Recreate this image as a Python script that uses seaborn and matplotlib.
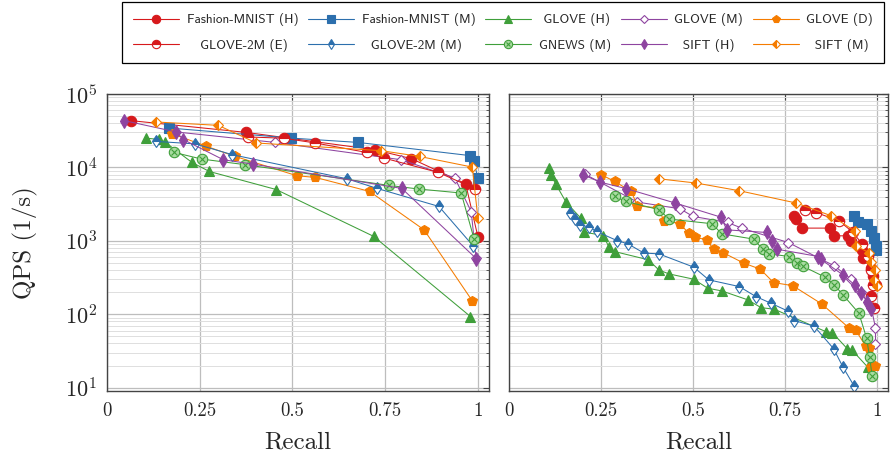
import numpy as np
import pandas as pd
import matplotlib
matplotlib.use("Agg")
import matplotlib.pyplot as plt
import seaborn as sns
from matplotlib.lines import Line2D
from matplotlib.legend_handler import HandlerTuple
from matplotlib.ticker import LogLocator, FixedLocator, NullFormatter

# --- data: left panel ---
fm_h_left_x = [0.064, 0.375, 0.722, 0.821, 0.967, 1.0]
fm_h_left_y = [43400, 30000, 17400, 13150, 6000, 1140]
fm_m_left_x = [0.168, 0.496, 0.677, 0.978, 0.989, 1.0]
fm_m_left_y = [34400, 25100, 21900, 14500, 12100, 7200]
glove_h_left_x = [0.104, 0.14, 0.157, 0.229, 0.276, 0.456, 0.719, 0.98]
glove_h_left_y = [25100, 24000, 22000, 11700, 8800, 5000, 1150, 93]
glove_m_left_x = [0.187, 0.453, 0.794, 0.938, 0.982, 0.995]
glove_m_left_y = [30400, 21900, 12700, 7160, 2500, 590]
glove_d_left_x = [0.175, 0.268, 0.346, 0.512, 0.562, 0.708, 0.855, 0.985]
glove_d_left_y = [28800, 19400, 14100, 7700, 7300, 4710, 1410, 152]
glove2m_e_left_x = [0.379, 0.476, 0.562, 0.70, 0.747, 0.893, 0.992]
glove2m_e_left_y = [26000, 25000, 21500, 16000, 13400, 8550, 5130]
glove2m_m_left_x = [0.133, 0.238, 0.338, 0.647, 0.728, 0.895, 0.987]
glove2m_m_left_y = [22600, 20900, 14900, 7000, 5180, 2940, 855]
gnews_left_x = [0.181, 0.255, 0.372, 0.76, 0.841, 0.955, 0.99]
gnews_left_y = [16000, 13000, 10900, 5690, 5070, 4480, 1050]
sift_h_left_x = [0.046, 0.187, 0.206, 0.314, 0.393, 0.795, 0.996]
sift_h_left_y = [43400, 30400, 23900, 12700, 11100, 5170, 570]
sift_m_left_x = [0.131, 0.30, 0.403, 0.74, 0.843, 0.985, 1.0]
sift_m_left_y = [41600, 37400, 21500, 16900, 14100, 10100, 2040]

# --- data: right panel ---
fm_h_right_x = [0.775, 0.781, 0.795, 0.872, 0.882, 0.922, 0.929, 0.96, 0.962, 0.983, 0.99, 0.998]
fm_h_right_y = [2150, 2000, 1490, 1490, 1170, 1170, 1000, 753, 581, 424, 330, 250]
fm_m_right_x = [0.938, 0.949, 0.974, 0.983, 0.992, 0.998, 0.998]
fm_m_right_y = [2190, 1780, 1690, 1380, 1090, 855, 754]
glove_h_right_x = [0.108, 0.114, 0.127, 0.155, 0.195, 0.204, 0.256, 0.271, 0.287, 0.379,
                   0.407, 0.434, 0.502, 0.54, 0.578, 0.649, 0.685, 0.721, 0.861, 0.879,
                   0.919, 0.931, 0.975]
glove_h_right_y = [9820, 7950, 5930, 3370, 2040, 1316, 1180, 836, 714, 551,
                   402, 355, 300, 226, 208, 157, 123, 117, 58, 56,
                   34, 33, 19]
glove_m_right_x = [0.206, 0.349, 0.465, 0.50, 0.594, 0.632, 0.759, 0.884, 0.93, 0.957, 0.985, 0.996, 0.996]
glove_m_right_y = [8100, 3370, 2730, 2150, 1780, 1490, 948, 456, 300, 200, 120, 65, 39]
glove_d_right_x = [0.251, 0.287, 0.332, 0.349, 0.405, 0.421, 0.465, 0.488, 0.506, 0.537,
                   0.556, 0.581, 0.638, 0.683, 0.719, 0.771, 0.85, 0.924, 0.942, 0.969,
                   0.978, 0.985, 0.995]
glove_d_right_y = [7950, 6440, 4710, 3000, 2790, 1890, 1710, 1270, 1120, 1030,
                   771, 693, 497, 411, 270, 245, 138, 65, 61, 37,
                   35, 19.3, 19.5]
glove2m_e_right_x = [0.805, 0.834, 0.897, 0.935, 0.96, 0.975, 0.985, 0.99, 0.985, 0.992]
glove2m_e_right_y = [2650, 2430, 1875, 1300, 900, 620, 400, 250, 178, 123]
glove2m_m_right_x = [0.167, 0.179, 0.192, 0.218, 0.238, 0.293, 0.323, 0.367, 0.407, 0.502,
                     0.543, 0.626, 0.671, 0.712, 0.757, 0.775, 0.829, 0.882, 0.908, 0.938]
glove2m_m_right_y = [2390, 1980, 1650, 1540, 1340, 1010, 910, 680, 665, 438,
                     294, 238, 174, 141, 111, 82, 69, 34, 18.9, 10.5]
gnews_right_x = [0.287, 0.317, 0.409, 0.434, 0.552, 0.578, 0.665, 0.689, 0.707, 0.762,
                 0.784, 0.80, 0.859, 0.884, 0.908, 0.951, 0.972, 0.98, 0.987]
gnews_right_y = [4030, 3440, 2650, 1980, 1710, 1245, 1055, 771, 665, 611,
                 497, 447, 320, 251, 183, 103, 47, 26, 14.4]
sift_h_right_x = [0.201, 0.248, 0.319, 0.452, 0.576, 0.592, 0.70, 0.715, 0.727, 0.841,
                  0.847, 0.908, 0.94, 0.957, 0.974, 0.985]
sift_h_right_y = [7950, 6300, 5130, 3270, 2100, 1410, 1300, 980, 771, 611,
                  560, 343, 250, 193, 149, 117]
sift_m_right_x = [0.407, 0.509, 0.626, 0.781, 0.876, 0.939, 0.942, 0.978, 0.983, 0.996, 0.992, 1.0]
sift_m_right_y = [7000, 6120, 4810, 3270, 2190, 1370, 855, 693, 522, 402, 294, 243]

x_ticks = [0, 0.25, 0.5, 0.75, 1]
x_tick_labels = ["0", "0.25", "0.5", "0.75", "1"]

RED = "#d7191c"
BLUE = "#2c6fad"
GREEN = "#3f9f3a"
PURPLE = "#8e44a0"
ORANGE = "#f57c00"

# name -> style
styles = {
    "Fashion-MNIST (H)": dict(color=RED, marker="o", ms=7.5, mfc=RED, fs="full"),
    "Fashion-MNIST (M)": dict(color=BLUE, marker="s", ms=6.8, mfc=BLUE, fs="full"),
    "GLOVE (H)": dict(color=GREEN, marker="^", ms=6.5, mfc=GREEN, fs="full"),
    "GLOVE (M)": dict(color=PURPLE, marker="D", ms=5.0, mfc="white", fs="full"),
    "GLOVE (D)": dict(color=ORANGE, marker="p", ms=7.5, mfc=ORANGE, fs="full"),
    "GLOVE-2M (E)": dict(color=RED, marker="o", ms=7.5, mfc=RED, fs="top"),
    "GLOVE-2M (M)": dict(color=BLUE, marker="d", ms=6.5, mfc=BLUE, fs="top"),
    "GNEWS (M)": dict(color=GREEN, marker="o", ms=7.5, mfc="#a8dba0", fs="full"),
    "SIFT (H)": dict(color=PURPLE, marker="d", ms=7.0, mfc=PURPLE, fs="full"),
    "SIFT (M)": dict(color=ORANGE, marker="D", ms=5.2, mfc=ORANGE, fs="left"),
}

left_series = {
    "Fashion-MNIST (H)": (fm_h_left_x, fm_h_left_y),
    "Fashion-MNIST (M)": (fm_m_left_x, fm_m_left_y),
    "GLOVE (H)": (glove_h_left_x, glove_h_left_y),
    "GLOVE (M)": (glove_m_left_x, glove_m_left_y),
    "GLOVE (D)": (glove_d_left_x, glove_d_left_y),
    "GLOVE-2M (E)": (glove2m_e_left_x, glove2m_e_left_y),
    "GLOVE-2M (M)": (glove2m_m_left_x, glove2m_m_left_y),
    "GNEWS (M)": (gnews_left_x, gnews_left_y),
    "SIFT (H)": (sift_h_left_x, sift_h_left_y),
    "SIFT (M)": (sift_m_left_x, sift_m_left_y),
}
right_series = {
    "Fashion-MNIST (H)": (fm_h_right_x, fm_h_right_y),
    "Fashion-MNIST (M)": (fm_m_right_x, fm_m_right_y),
    "GLOVE (H)": (glove_h_right_x, glove_h_right_y),
    "GLOVE (M)": (glove_m_right_x, glove_m_right_y),
    "GLOVE (D)": (glove_d_right_x, glove_d_right_y),
    "GLOVE-2M (E)": (glove2m_e_right_x, glove2m_e_right_y),
    "GLOVE-2M (M)": (glove2m_m_right_x, glove2m_m_right_y),
    "GNEWS (M)": (gnews_right_x, gnews_right_y),
    "SIFT (H)": (sift_h_right_x, sift_h_right_y),
    "SIFT (M)": (sift_m_right_x, sift_m_right_y),
}

sns.set_style("white")
plt.rcParams["font.family"] = ["cmr10"]
plt.rcParams["mathtext.fontset"] = "cm"
plt.rcParams["axes.formatter.use_mathtext"] = True

fig = plt.figure(figsize=(8.91, 4.53), dpi=100)
ax1 = fig.add_axes([107 / 891, 62 / 453, 382 / 891, 297 / 453])
ax2 = fig.add_axes([509 / 891, 62 / 453, 379 / 891, 297 / 453], sharey=ax1)


def draw(ax, series):
    for name, (xs, ys) in series.items():
        st = styles[name]
        df = pd.DataFrame({"recall": xs, "qps": ys})
        sns.lineplot(data=df, x="recall", y="qps", ax=ax, sort=False, estimator=None,
                     color=st["color"], lw=0.75, marker=st["marker"], markersize=st["ms"],
                     markerfacecolor=st["mfc"], markeredgecolor=st["color"],
                     markeredgewidth=0.8, fillstyle=st["fs"],
                     markerfacecoloralt="white", legend=False)
        if name == "GNEWS (M)":
            ax.plot(xs, ys, linestyle="none", marker="x", ms=4.2, mew=0.8,
                    color=st["color"])


draw(ax1, left_series)
draw(ax2, right_series)

for ax in (ax1, ax2):
    ax.set_yscale("log")
    ax.set_ylim(9, 1e5)
    ax.set_xlim(0, 1.03)
    ax.xaxis.set_major_locator(FixedLocator(x_ticks))
    ax.set_xticklabels(x_tick_labels)
    ax.yaxis.set_major_locator(LogLocator(base=10, numticks=10))
    ax.yaxis.set_minor_locator(LogLocator(base=10, subs=np.arange(2, 10), numticks=10))
    ax.yaxis.set_minor_formatter(NullFormatter())
    ax.grid(True, which="major", color="#bdbdbd", lw=0.9)
    ax.grid(True, which="minor", axis="y", color="#dedede", lw=0.7)
    ax.set_axisbelow(True)
    ax.tick_params(which="both", direction="in", top=True, right=True,
                   color="#444444")
    ax.tick_params(axis="x", which="major", labelsize=13.5, pad=8)
    ax.tick_params(axis="y", which="major", labelsize=16, pad=7)
    ax.tick_params(which="major", length=4)
    ax.tick_params(which="minor", length=2.5)
    for sp in ax.spines.values():
        sp.set_color("#444444")
        sp.set_linewidth(1.0)
    ax.set_xlabel("Recall", fontsize=18, labelpad=8)
    ax.set_ylabel("")

ax1.set_ylabel("QPS (1/s)", fontsize=18, labelpad=19)
ax2.tick_params(labelleft=False)

# legend
labels = list(styles.keys())
pads = {"GLOVE-2M (E)": 3, "GLOVE-2M (M)": 2, "GLOVE (H)": 1, "SIFT (H)": 2, "SIFT (M)": 2}
handles = []
for name in labels:
    st = styles[name]
    h = Line2D([], [], color=st["color"], lw=0.8, marker=st["marker"], ms=st["ms"] * 0.8,
               mfc=st["mfc"], mec=st["color"], mew=0.8, fillstyle=st["fs"],
               markerfacecoloralt="white")
    if name == "GNEWS (M)":
        hx = Line2D([], [], linestyle="none", marker="x", ms=3.4, mew=0.8, color=st["color"])
        h = (h, hx)
    handles.append(h)
# order column-wise for ncol=5 with 2 rows
order = [0, 5, 1, 6, 2, 7, 3, 8, 4, 9]
h_ord = [handles[i] for i in order]
l_ord = [" " * pads.get(labels[i], 0) + labels[i] for i in order]
leg = fig.legend(h_ord, l_ord, ncol=5, loc="upper left", bbox_to_anchor=(122 / 891, 1 - 2 / 453),
                 borderaxespad=0, frameon=True, fancybox=False, edgecolor="black",
                 framealpha=1, prop={"family": "cmss10", "size": 9.5}, handlelength=3.5,
                 handletextpad=0.55, columnspacing=0.75, labelspacing=0.95, borderpad=0.85,
                 handler_map={tuple: HandlerTuple(ndivide=1)})
leg.get_frame().set_linewidth(0.9)

fig.savefig("out.png", dpi=100)
